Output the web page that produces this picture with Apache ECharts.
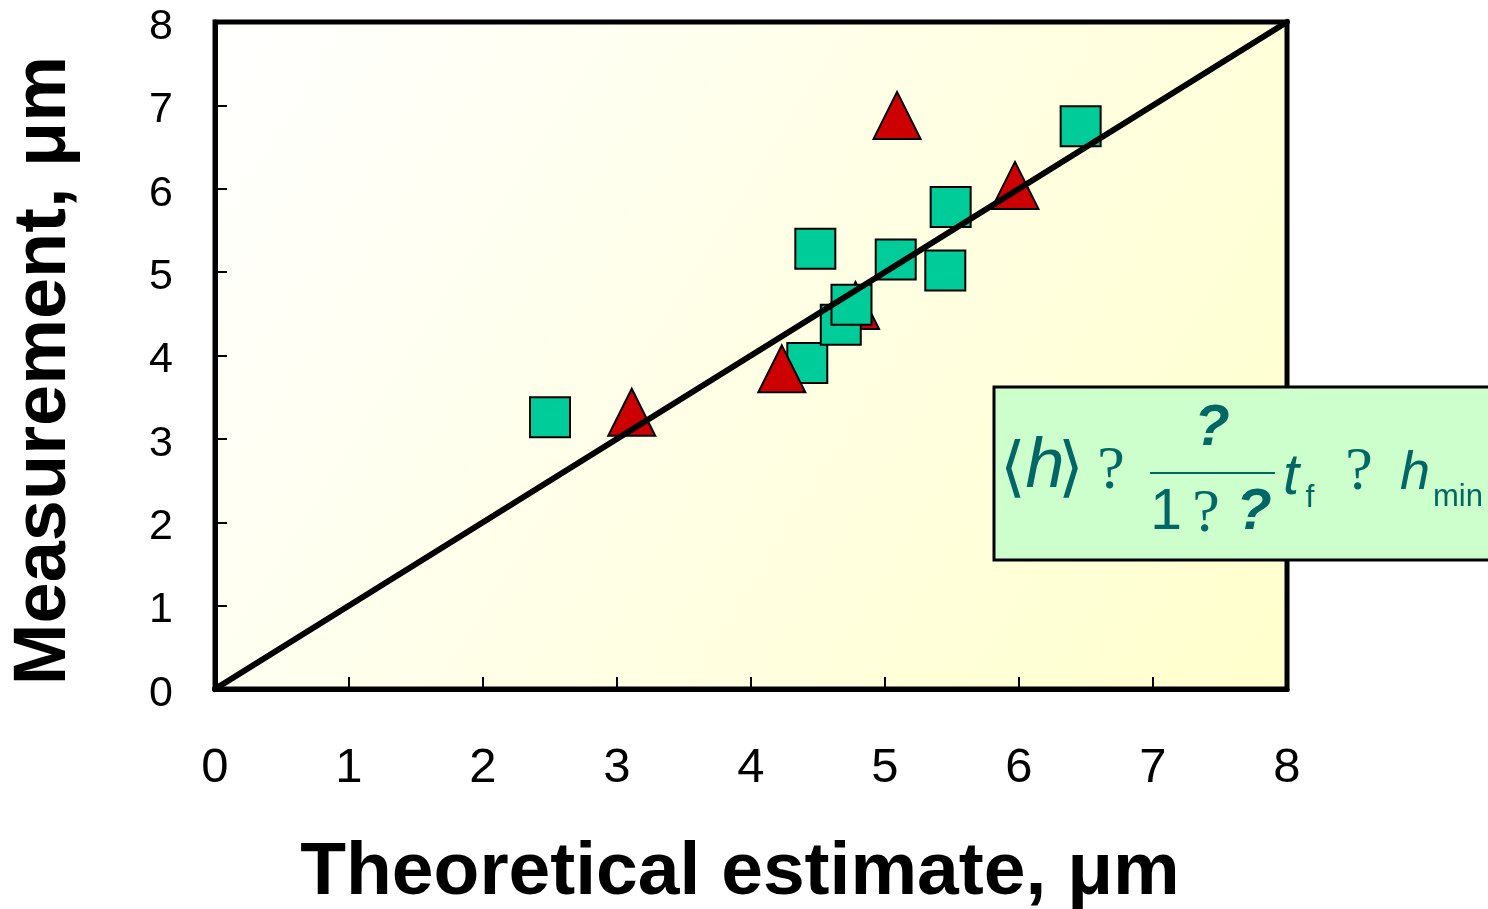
<!DOCTYPE html>
<html>
<head>
<meta charset="utf-8">
<script src="https://cdn.jsdelivr.net/npm/echarts@6/dist/echarts.min.js"></script>
<style>
html,body{margin:0;padding:0;background:#fff;}
#chart{width:1488px;height:909px;}
</style>
</head>
<body>
<div id="chart"></div>
<script>
// ---- data ----
var xTicks = [0, 1, 2, 3, 4, 5, 6, 7, 8];
var yTicks = [0, 1, 2, 3, 4, 5, 6, 7, 8];
var squaresLow = [[4.42, 3.91]];
var triangles = [[3.11, 3.32], [4.23, 3.84], [4.78, 4.60], [5.09, 6.88], [5.97, 6.04]];
var squares = [[2.50, 3.26], [4.48, 5.28], [5.08, 5.15], [5.45, 5.02], [5.49, 5.78], [6.46, 6.75], [4.67, 4.37], [4.75, 4.61]];
var identityLine = [[0, 0], [8, 8]];
var xTitle = 'Theoretical estimate, μm';
var yTitle = 'Measurement, μm';

var chart = echarts.init(document.getElementById('chart'));
var teal = '#006666';
function t(text, x, y, size, family, style, weight, align) {
  return {
    type: 'text', z: 101,
    style: {
      text: text, x: x, y: y, fill: teal,
      font: (style || 'normal') + ' ' + (weight || 'normal') + ' ' + size + 'px ' + (family || '"Liberation Sans", Arial, sans-serif'),
      align: align || 'center', verticalAlign: 'middle'
    }
  };
}
var serif = '"Liberation Serif", "Times New Roman", serif';
var sans = '"Liberation Sans", Arial, sans-serif';
var dejavu = '"DejaVu Sans", sans-serif';

var option = {
  animation: false,
  grid: {
    left: 215, right: 201, top: 22, bottom: 220,
    outerBoundsMode: 'none',
    containLabel: false,
    show: true,
    borderColor: '#000', borderWidth: 5,
    backgroundColor: new echarts.graphic.LinearGradient(0, 0, 1, 1, [
      {offset: 0, color: '#FFFFFF'},
      {offset: 1, color: '#FFFFCC'}
    ])
  },
  xAxis: {
    type: 'value', min: 0, max: 8, interval: 1,
    name: xTitle, nameLocation: 'middle', nameGap: 147,
    nameTextStyle: {fontFamily: sans, fontWeight: 'bold', fontSize: 75, color: '#000', padding: [0, 22, 0, 0]},
    axisLine: {show: true, lineStyle: {color: '#000', width: 5}},
    axisTick: {show: true, inside: true, length: 12, lineStyle: {color: '#000', width: 2}},
    axisLabel: {margin: 55, fontFamily: sans, fontSize: 49, color: '#000',
      formatter: function (v) { return xTicks.indexOf(v) >= 0 ? String(v) : ''; }},
    splitLine: {show: false}
  },
  yAxis: {
    type: 'value', min: 0, max: 8, interval: 1,
    name: yTitle, nameLocation: 'middle', nameGap: 133,
    nameTextStyle: {fontFamily: sans, fontWeight: 'bold', fontSize: 74, color: '#000', padding: [0, 30, 0, 0]},
    axisLine: {show: true, lineStyle: {color: '#000', width: 5}},
    axisTick: {show: true, inside: true, length: 12, lineStyle: {color: '#000', width: 2}},
    axisLabel: {margin: 42, color: '#000',
      formatter: function (v) { return yTicks.indexOf(v) >= 0 ? '{a|' + v + '}' : ''; },
      rich: {a: {fontFamily: sans, fontSize: 43, color: '#000', padding: [10, 0, 0, 0]}}},
    splitLine: {show: false}
  },
  series: [
    {
      type: 'scatter', data: squaresLow, symbol: 'rect', symbolSize: 40, z: 3,
      itemStyle: {color: '#00CC99', borderColor: '#000', borderWidth: 2, opacity: 1}
    },
    {
      type: 'scatter', data: triangles, symbol: 'triangle', symbolSize: [47, 47], z: 4,
      itemStyle: {color: '#CC0000', borderColor: '#000', borderWidth: 2, opacity: 1}
    },
    {
      type: 'scatter', data: squares, symbol: 'rect', symbolSize: 40, z: 5,
      itemStyle: {color: '#00CC99', borderColor: '#000', borderWidth: 2, opacity: 1}
    },
    {
      type: 'line', data: identityLine, symbol: 'none', z: 10, clip: false,
      lineStyle: {color: '#000', width: 6, cap: 'round'}
    }
  ],
  graphic: [
    {
      type: 'group', z: 100,
      children: [
        {type: 'rect', z: 100, shape: {x: 994, y: 387, width: 520, height: 173},
         style: {fill: '#CCFFCC', stroke: '#000', lineWidth: 3}},
        t('⟨', 1013, 472, 66, dejavu, 'normal', 'lighter'),
        t('h', 1045, 468, 70, sans, 'italic'),
        t('⟩', 1071, 472, 66, dejavu, 'normal', 'lighter'),
        t('?', 1111, 472, 62, serif),
        t('?', 1212, 429, 58, sans, 'italic', 'bold'),
        {type: 'line', z: 101, shape: {x1: 1150, y1: 473, x2: 1275, y2: 473},
         style: {stroke: teal, lineWidth: 2}},
        t('1', 1166, 513, 57, sans),
        t('?', 1206, 515, 62, serif),
        t('?', 1254, 513, 58, sans, 'italic', 'bold'),
        t('t', 1291, 478, 58, sans, 'italic'),
        t('f', 1310, 498, 32, sans),
        t('?', 1359, 473, 62, serif),
        t('h', 1415, 474, 54, sans, 'italic'),
        t('min', 1433, 497, 31, sans, 'normal', 'normal', 'left')
      ]
    }
  ]
};
chart.setOption(option);
</script>
</body>
</html>
